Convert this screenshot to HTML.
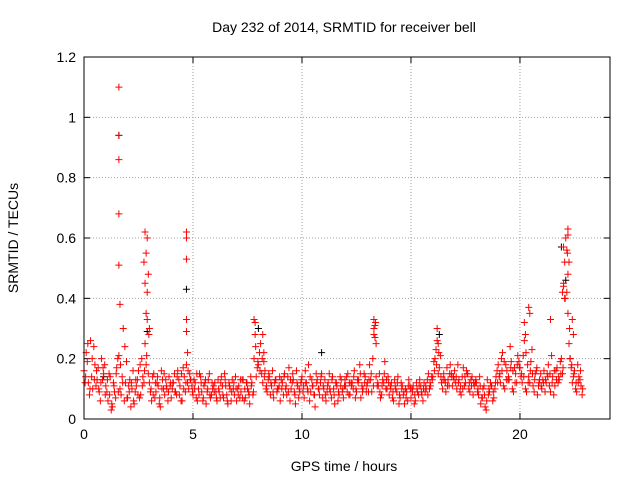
<!DOCTYPE html>
<html><head><meta charset="utf-8"><style>
body{margin:0;background:#fff}
svg{display:block;font-family:"Liberation Sans",sans-serif}
</style></head><body>
<svg id="chart" width="640" height="480">
<rect width="640" height="480" fill="#fff"/>
<text x="344" y="32" font-size="14" text-anchor="middle">Day 232 of 2014, SRMTID for receiver bell</text>
<text x="344" y="471" font-size="14" text-anchor="middle">GPS time / hours</text>
<text x="18" y="238" font-size="14" text-anchor="middle" transform="rotate(-90 18 238)">SRMTID / TECUs</text>
<g id="grid"></g><g id="ticks"></g><g id="marks"></g>
<rect x="84" y="57" width="526" height="362" fill="none" stroke="#000"/>
</svg>
<script>
const xTicks=[0,5,10,15,20];
const yTicks=[0,0.2,0.4,0.6,0.8,1,1.2];
const yTickLabels=["0","0.2","0.4","0.6","0.8","1","1.2"];
const baseVals=[.16,.22,.12,.26,.10,.18,.13,.09,.20,.15,.11,.06,.14,.04,.09,.17,.21,.08,.30,.12,.07,.13,.10,.05,.11,.16,.08,.14,.25,.33,.12,.06,.15,.09,.11,.04,.13,.08,.10,.14,.07,.12,.09,.16,.11,.06,.14,.18,.10,.13,.08,.12,.06,.15,.09,.11,.05,.13,.07,.10,.12,.06,.09,.14,.07,.11,.05,.10,.13,.08,.06,.11,.09,.13,.07,.10,.05,.12,.20,.14,.18,.25,.12,.16,.09,.14,.11,.07,.13,.10,.06,.12,.15,.08,.17,.10,.13,.05,.11,.09,.14,.07,.12,.18,.09,.11,.04,.13,.08,.15,.10,.06,.12,.09,.14,.05,.11,.08,.13,.07,.11,.15,.08,.12,.16,.09,.13,.07,.10,.14,.12,.18,.09,.30,.14,.11,.07,.13,.19,.10,.08,.12,.06,.10,.14,.07,.11,.05,.09,.13,.07,.11,.06,.09,.13,.08,.12,.10,.15,.11,.14,.20,.26,.17,.12,.15,.09,.13,.18,.11,.16,.10,.13,.08,.17,.12,.15,.09,.14,.11,.12,.08,.05,.10,.04,.13,.09,.11,.07,.14,.18,.12,.22,.10,.16,.13,.19,.09,.15,.21,.17,.12,.26,.09,.14,.19,.11,.15,.08,.13,.10,.16,.12,.18,.09,.14,.11,.17,.13,.20,.45,.60,.35,.20,.12,.16,.09,.14,.11];
const midVals=[.12,.19,.08,.14,.24,.11,.17,.06,.13,.18,.09,.15,.03,.12,.07,.20,.10,.14,.06,.19,.11,.04,.16,.09,.13,.07,.20,.12,.18,.15,.09,.14,.07,.12,.05,.16,.10,.13,.06,.11,.10,.15,.08,.13,.06,.17,.09,.12,.15,.11,.13,.07,.10,.14,.06,.12,.09,.15,.08,.11,.09,.13,.07,.11,.15,.08,.12,.06,.10,.14,.10,.07,.13,.06,.12,.09,.14,.08,.28,.17,.22,.15,.19,.10,.13,.08,.16,.12,.09,.11,.13,.08,.10,.14,.06,.12,.09,.16,.07,.12,.09,.16,.10,.06,.13,.08,.15,.10,.12,.07,.13,.09,.15,.07,.10,.12,.06,.14,.09,.11,.14,.08,.12,.10,.07,.13,.18,.11,.15,.09,.09,.13,.20,.27,.11,.15,.08,.12,.10,.14,.11,.07,.13,.09,.05,.12,.08,.10,.06,.11,.10,.05,.12,.08,.11,.06,.09,.13,.10,.14,.19,.23,.15,.21,.10,.13,.17,.11,.15,.14,.12,.18,.09,.14,.11,.16,.10,.13,.08,.12,.09,.14,.07,.11,.03,.08,.12,.06,.10,.16,.14,.20,.11,.18,.13,.24,.10,.17,.12,.19,.14,.21,.10,.18,.12,.23,.09,.16,.11,.15,.13,.09,.15,.11,.21,.08,.16,.12,.19,.15,.52,.42,.25,.17,.14,.10,.18,.13,.08];
const extraVals=[.14,.25,.10,.20,.13,.16,.10,.12,.17,.08,.13,.08,.05,.11,.15,.09,.18,.12,.24,.07,.09,.12,.06,.13,.08,.18,.11,.16,.21,.28,.10,.08,.12,.14,.07,.10,.15,.11,.09,.12,.12,.09,.14,.08,.15,.10,.12,.16,.13,.09,.10,.15,.08,.12,.07,.13,.10,.08,.12,.09,.07,.10,.12,.08,.13,.06,.11,.09,.12,.10,.08,.13,.07,.10,.12,.08,.11,.09,.24,.19,.16,.20,.14,.11,.15,.12,.09,.13,.10,.14,.10,.14,.11,.09,.13,.15,.08,.12,.10,.13,.11,.12,.09,.14,.11,.08,.12,.10,.14,.11,.08,.11,.10,.13,.08,.12,.09,.11,.10,.13,.09,.12,.11,.14,.10,.12,.15,.09,.12,.11,.13,.15,.11,.32,.12,.09,.11,.15,.13,.12,.10,.09,.11,.12,.08,.10,.09,.07,.11,.10,.09,.08,.10,.11,.09,.10,.11,.08,.12,.13,.16,.18,.22,.14,.13,.12,.11,.15,.14,.13,.14,.12,.11,.10,.14,.15,.12,.11,.12,.13,.10,.11,.07,.08,.06,.10,.11,.09,.12,.12,.15,.16,.19,.13,.14,.17,.16,.12,.18,.17,.15,.14,.22,.12,.16,.15,.13,.17,.12,.11,.12,.13,.14,.15,.12,.16,.13,.14,.15,.17,.40,.55,.30,.18,.15,.12,.12,.16,.10];
const spikeTimes=[1.6,1.6,1.6,1.6,1.6,1.65,2.8,2.9,2.85,2.75,2.95,2.8,2.9,2.85,3.0,4.7,4.7,4.7,4.7,4.7,4.75,7.8,7.85,8.2,8.25,13.3,13.35,13.3,13.4,16.2,16.25,20.2,20.25,20.4,20.45,21.4,22.0,22.0,21.95,22.05,22.2,22.2,22.15,22.25,22.2,22.4,22.45];
const spikeVals=[1.10,.94,.86,.68,.51,.38,.62,.60,.55,.52,.48,.45,.42,.35,.30,.62,.60,.53,.33,.29,.22,.33,.32,.28,.22,.33,.31,.28,.25,.30,.25,.32,.28,.37,.35,.33,.57,.44,.42,.40,.63,.61,.56,.52,.48,.33,.28];
const blackTimes=[0.9,1.6,2.9,4.7,8.0,10.9,16.3,21.9,22.1,22.3];
const blackVals=[.14,.94,.29,.43,.30,.22,.28,.57,.46,.20];
const X0=84,X1=610,Y0=419,Y1=57,XMAX=24.13,YMAX=1.2;
const xs=t=>X0+(X1-X0)*t/XMAX, ys=v=>Y0-(Y0-Y1)*v/YMAX;
const NS="http://www.w3.org/2000/svg";
const grid=document.getElementById('grid'),ticks=document.getElementById('ticks'),marks=document.getElementById('marks');
function mk(tag,attrs,parent){const e=document.createElementNS(NS,tag);for(const k in attrs)e.setAttribute(k,attrs[k]);parent.appendChild(e);return e;}
xTicks.forEach(t=>{const x=xs(t);
 if(t>0){const g=mk('line',{x1:x,y1:Y1,x2:x,y2:Y0,stroke:'#a0a0a0','stroke-dasharray':'1,2'},grid);
 
 }
 mk('line',{x1:x,y1:Y0,x2:x,y2:Y0-6,stroke:'#000'},ticks);mk('line',{x1:x,y1:Y1,x2:x,y2:Y1+6,stroke:'#000'},ticks);
 const l=mk('text',{x:x,y:Y0+20,'font-size':14,'text-anchor':'middle'},ticks);l.textContent=t;
 
 });
yTicks.forEach((v,i)=>{const y=ys(v);
 if(v>0&&v<YMAX){const g=mk('line',{x1:X0,y1:y,x2:X1,y2:y,stroke:'#a0a0a0','stroke-dasharray':'1,2'},grid);
 
 }
 mk('line',{x1:X0,y1:y,x2:X0+6,y2:y,stroke:'#000'},ticks);mk('line',{x1:X1,y1:y,x2:X1-6,y2:y,stroke:'#000'},ticks);
 const l=mk('text',{x:X0-8,y:y+5,'font-size':14,'text-anchor':'end'},ticks);l.textContent=yTickLabels[i];
 
 });
function plus(t,v,color,name){const x=xs(t),y=ys(v);
 const p=mk('path',{d:`M${x-3.5},${y}H${x+3.5}M${x},${y-3.5}V${y+3.5}`,stroke:color,'stroke-width':1,fill:'none'},marks);
 
 }
blackTimes.forEach((t,i)=>plus(t,blackVals[i],'#000','black-point'));
baseVals.forEach((v,i)=>plus(i*0.1,v,'#f00','red-point'));
midVals.forEach((v,i)=>plus(i*0.1+0.05,v,'#f00','red-point'));
extraVals.forEach((v,i)=>plus(i*0.1+0.075,v,'#f00','red-point'));
spikeTimes.forEach((t,i)=>plus(t,spikeVals[i],'#f00','red-spike-point'));
</script>
</body></html>
